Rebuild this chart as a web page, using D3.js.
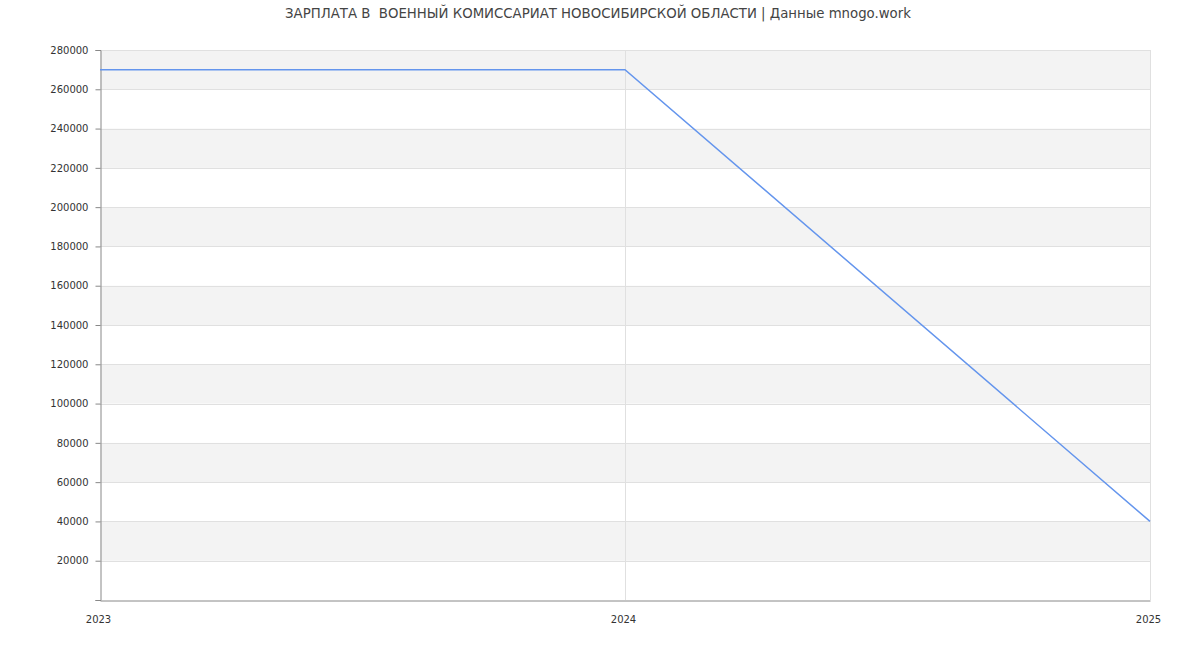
<!DOCTYPE html>
<html><head><meta charset="utf-8">
<script src="https://cdn.jsdelivr.net/npm/d3@7"></script>
<style>
body{margin:0;background:#fff;}
text{font-family:"DejaVu Sans",sans-serif;}
</style></head>
<body><svg id="c" width="1200" height="650"></svg>
<script>
const title = "ЗАРПЛАТА В  ВОЕННЫЙ КОМИССАРИАТ НОВОСИБИРСКОЙ ОБЛАСТИ | Данные mnogo.work";
const years = [2023, 2024, 2025];
const salaries = [270000, 270000, 40000];
const yTicks = [0,20000,40000,60000,80000,100000,120000,140000,160000,180000,200000,220000,240000,260000,280000];

const svg = d3.select("#c");
const m = {l:100, r:1150, t:50, b:600};
const x = d3.scaleLinear().domain([2023,2025]).range([m.l,m.r]);
const y = d3.scaleLinear().domain([0,280000]).range([m.b,m.t]);

// bands
for (let i=0;i<yTicks.length-1;i++){
  if (i%2===1){
    svg.append("rect").attr("x",m.l).attr("width",m.r-m.l)
      .attr("y",y(yTicks[i+1])).attr("height",y(yTicks[i])-y(yTicks[i+1]))
      .attr("fill","#f3f3f3");
  }
}
// horizontal grid
svg.append("g").selectAll("line").data(yTicks.slice(1)).join("line")
  .attr("x1",m.l).attr("x2",m.r).attr("y1",d=>Math.round(y(d))+0.5).attr("y2",d=>Math.round(y(d))+0.5)
  .attr("stroke","#e0e0e0");
// vertical grid
svg.append("g").selectAll("line").data(years.slice(1)).join("line")
  .attr("x1",d=>Math.round(x(d))+0.5).attr("x2",d=>Math.round(x(d))+0.5).attr("y1",m.t).attr("y2",m.b)
  .attr("stroke","#e0e0e0");

// axes
const ya = svg.append("g").attr("transform",`translate(${m.l+0.5},0)`)
  .call(d3.axisLeft(y).tickValues(yTicks).tickSize(5).tickFormat(d=>d===0?"":d));
const xa = svg.append("g").attr("transform",`translate(0,${m.b+0.5})`)
  .call(d3.axisBottom(x).tickValues(years).tickSize(0).tickFormat(d3.format("d")));
[ya,xa].forEach(a=>{
  a.select(".domain").attr("stroke","#888");
  a.selectAll(".tick line").attr("stroke","#888");
  a.selectAll("text").attr("fill","#333").style("font-size","10px").style("font-family","DejaVu Sans");
});
ya.selectAll("text").attr("x",-12);
xa.selectAll("text").attr("dy","1.9em").attr("dx","-2");

// line
svg.append("path").datum(years.map((d,i)=>[d,salaries[i]]))
  .attr("fill","none").attr("stroke","#6495ed").attr("stroke-width",1.5)
  .attr("d",d3.line().x(d=>x(d[0])).y(d=>y(d[1])));

svg.append("text").attr("x",598).attr("y",18).attr("text-anchor","middle")
  .attr("fill","#444").style("font-size","13.3px").style("white-space","pre").text(title);
</script></body></html>
